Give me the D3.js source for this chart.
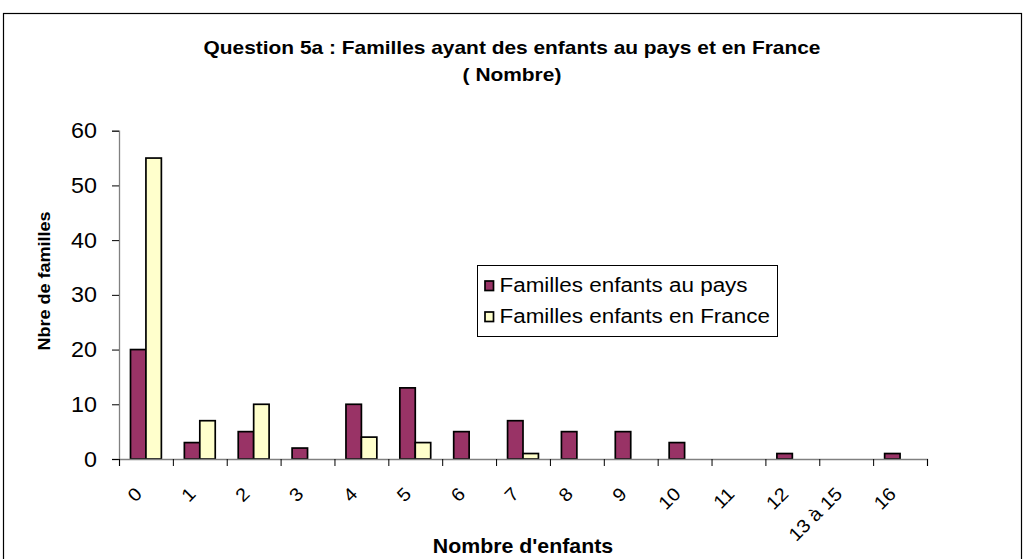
<!DOCTYPE html>
<html>
<head>
<meta charset="utf-8">
<script src="https://cdn.jsdelivr.net/npm/d3@7"></script>
<style>
  body { margin: 0; background: #fff; }
  text { font-family: Arial, "Liberation Sans", sans-serif; }
</style>
</head>
<body>
<script>
// categories and the two series
const categories = ["0", "1", "2", "3", "4", "5", "6", "7", "8", "9", "10", "11", "12", "13 à 15", "16"];
const seriesNames = ["Familles enfants au pays", "Familles enfants en France"];
const auPays = [20, 3, 5, 2, 10, 13, 5, 7, 5, 5, 3, 0, 1, 0, 1];
const enFrance = [55, 7, 10, 0, 4, 3, 0, 1, 0, 0, 0, 0, 0, 0, 0];
const yTicks = [0, 10, 20, 30, 40, 50, 60];
const colors = ["#993366", "#FFFFCC"];

const W = 1026, H = 559;
const plot = {left: 119, right: 927, top: 130.7, bottom: 459};

// the original text is a bit wider than Arial, stretch it a little
function stretch(sel, k) {
  sel.each(function() {
    const len = this.getComputedTextLength();
    d3.select(this).attr("textLength", len * k).attr("lengthAdjust", "spacingAndGlyphs");
  });
}

const svg = d3.select("body").append("svg")
  .attr("width", W)
  .attr("height", H);

// outer frame of the chart
svg.append("rect")
  .attr("x", 3.5).attr("y", 13.5)
  .attr("width", 1018).attr("height", 560)
  .attr("fill", "none").attr("stroke", "#000").attr("stroke-width", 1.2);

// title
svg.append("text")
  .attr("x", 512).attr("y", 54)
  .attr("text-anchor", "middle")
  .style("font-size", "18.5px").style("font-weight", "bold")
  .text("Question 5a : Familles ayant des enfants au pays et en France")
  .call(stretch, 1.13);
svg.append("text")
  .attr("x", 512).attr("y", 81)
  .attr("text-anchor", "middle")
  .style("font-size", "18.5px").style("font-weight", "bold")
  .text("( Nombre)")
  .call(stretch, 1.13);

// scales
const x0 = d3.scaleBand()
  .domain(categories)
  .range([plot.left, plot.right]);

const x1 = d3.scaleBand()
  .domain([0, 1])
  .range([11.5, x0.bandwidth() - 11.5]);

const y = d3.scaleLinear()
  .domain([0, 60])
  .range([plot.bottom, plot.top]);

const rows = categories.map((c, i) => ({cat: c, vals: [auPays[i], enFrance[i]]}));

// bars
const groups = svg.selectAll("g.cat")
  .data(rows)
  .enter().append("g")
  .attr("class", "cat")
  .attr("transform", d => "translate(" + x0(d.cat) + ",0)");

groups.selectAll("rect")
  .data(d => d.vals.map((v, s) => ({v: v, s: s})).filter(e => e.v > 0))
  .enter().append("rect")
  .attr("x", d => x1(d.s))
  .attr("y", d => y(d.v))
  .attr("width", x1.bandwidth())
  .attr("height", d => y(0) - y(d.v))
  .attr("fill", d => colors[d.s])
  .attr("stroke", "#000")
  .attr("stroke-width", 1.7);

// y axis
const yAxis = svg.append("g")
  .attr("transform", "translate(" + plot.left + ",0)")
  .call(d3.axisLeft(y).tickValues(yTicks).tickSize(7).tickPadding(15));
yAxis.select(".domain").attr("stroke", "#808080").attr("stroke-width", 1.3);
yAxis.selectAll(".tick line").attr("stroke", "#000");
yAxis.selectAll(".tick text")
  .style("font-size", "22px")
  .style("font-family", "Arial, 'Liberation Sans', sans-serif")
  .attr("fill", "#000")
  .call(stretch, 1.06);

// x axis, ticks at the band edges
const xEdge = d3.scaleLinear().domain([0, categories.length]).range([plot.left, plot.right]);
const xAxis = svg.append("g")
  .attr("transform", "translate(0," + plot.bottom + ")")
  .call(d3.axisBottom(xEdge).tickValues(d3.range(categories.length + 1)).tickSize(7).tickFormat(""));
xAxis.select(".domain").attr("stroke", "#808080").attr("stroke-width", 1.3);
xAxis.selectAll(".tick line").attr("stroke", "#000");

// rotated category labels
svg.append("g").selectAll("text")
  .data(categories)
  .enter().append("text")
  .attr("transform", d => "translate(" + (x0(d) + x0.bandwidth() / 2 - 12) + "," + (plot.bottom + 27) + ") rotate(-45)")
  .attr("text-anchor", "end")
  .attr("dy", "0.7em")
  .style("font-size", "18.5px")
  .text(d => d)
  .call(stretch, 1.08);

// axis titles
svg.append("text")
  .attr("transform", "translate(50,281) rotate(-90)")
  .attr("text-anchor", "middle")
  .style("font-size", "17px").style("font-weight", "bold")
  .text("Nbre de familles")
  .call(stretch, 1.06);

svg.append("text")
  .attr("x", 523).attr("y", 553)
  .attr("text-anchor", "middle")
  .style("font-size", "20.5px").style("font-weight", "bold")
  .text("Nombre d'enfants")
  .call(stretch, 1.04);

// legend
const legend = svg.append("g").attr("transform", "translate(477.5,265.5)");
legend.append("rect")
  .attr("width", 300).attr("height", 71)
  .attr("fill", "#fff").attr("stroke", "#000").attr("stroke-width", 1);
seriesNames.forEach((name, i) => {
  const row = legend.append("g").attr("transform", "translate(0," + (26.5 + i * 31) + ")");
  row.append("rect")
    .attr("x", 7.5).attr("y", -11)
    .attr("width", 8.5).attr("height", 9.5)
    .attr("fill", colors[i]).attr("stroke", "#000").attr("stroke-width", 1.7);
  row.append("text")
    .attr("x", 22).attr("y", 0)
    .style("font-size", "19.5px")
    .text(name)
    .call(stretch, 1.15);
});
</script>
</body>
</html>
